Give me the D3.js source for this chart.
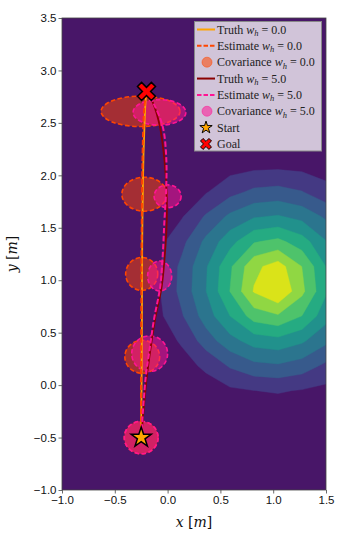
<!DOCTYPE html>
<html>
<head>
<meta charset="utf-8">
<script src="https://cdn.jsdelivr.net/npm/d3@7"></script>
<style>
  body { margin: 0; background: #fff; }
  svg { display: block; }
</style>
</head>
<body>
<div id="vis"></div>
<script>
////////////////////////////////////////
/////////////// Data ///////////////////
////////////////////////////////////////

// trajectories, [x, y] in metres
const truth0 = [[-0.25, -0.5], [-0.248, -0.2], [-0.245, 0.2], [-0.243, 0.6], [-0.242, 1.0],
  [-0.24, 1.4], [-0.235, 1.8], [-0.228, 2.2], [-0.218, 2.5], [-0.21, 2.68], [-0.2, 2.8]];
const estimate0 = [[-0.25, -0.5], [-0.252, 0.0], [-0.25, 0.5], [-0.248, 1.0], [-0.245, 1.5],
  [-0.24, 2.0], [-0.232, 2.4], [-0.22, 2.65], [-0.2, 2.8]];
const truth5 = [[-0.25, -0.5], [-0.2, 0.05], [-0.167, 0.31], [-0.12, 0.62], [-0.056, 0.94],
  [-0.025, 1.26], [-0.008, 1.57], [-0.009, 1.83], [-0.03, 2.15], [-0.072, 2.46], [-0.138, 2.69], [-0.2, 2.8]];
const estimate5 = [[-0.25, -0.5], [-0.21, 0.05], [-0.175, 0.31], [-0.13, 0.62], [-0.07, 0.94],
  [-0.045, 1.26], [-0.03, 1.57], [-0.015, 1.83], [-0.012, 2.15], [-0.045, 2.46], [-0.135, 2.69], [-0.2, 2.8]];

// covariance ellipses, [cx, cy, rx, ry] in metres
const cov0 = [[-0.25, -0.5, 0.16, 0.155], [-0.24, 0.27, 0.165, 0.157], [-0.245, 1.06, 0.152, 0.157],
  [-0.22, 1.82, 0.213, 0.162], [-0.256, 2.61, 0.374, 0.145]];
const cov5 = [[-0.25, -0.5, 0.16, 0.155], [-0.17, 0.3, 0.17, 0.17], [-0.075, 1.04, 0.114, 0.143],
  [0.0, 1.8, 0.128, 0.109], [-0.077, 2.6, 0.25, 0.122]];

const start = [-0.25, -0.5];
const goal = [-0.2, 2.8];

const hazardCenter = [1.0, 0.98];
const hazardRadius = [0, 0.21, 0.31, 0.42, 0.52, 0.64, 0.78, 0.91, 1.045, 1.4];
const hazardLevel = [9.9, 8, 7, 6, 5, 4, 3, 2, 1, 0];
const hazardThresholds = [1, 2, 3, 4, 5, 6, 7, 8];

const xTicks = [-1.0, -0.5, 0.0, 0.5, 1.0, 1.5];
const yTicks = [-1.0, -0.5, 0.0, 0.5, 1.0, 1.5, 2.0, 2.5, 3.0, 3.5];

////////////////////////////////////////
/////////////// Setup //////////////////
////////////////////////////////////////

const W = 359, H = 538;
const plot = { left: 62, right: 326, top: 18, bottom: 490 };

const svg = d3.select("#vis").append("svg").attr("width", W).attr("height", H);

const x = d3.scaleLinear().domain([-1, 1.5]).range([plot.left, plot.right]);
const y = d3.scaleLinear().domain([-1, 3.5]).range([plot.bottom, plot.top]);

svg.append("clipPath").attr("id", "clip")
  .append("rect")
  .attr("x", plot.left).attr("y", plot.top)
  .attr("width", plot.right - plot.left).attr("height", plot.bottom - plot.top);

const g = svg.append("g").attr("clip-path", "url(#clip)");

const nBands = hazardThresholds.length + 1;
const bandColor = (i) => d3.interpolateViridis((i + 0.5) / nBands);

////////////////////////////////////////
/////////////// Contours ///////////////
////////////////////////////////////////

g.append("rect")
  .attr("x", plot.left).attr("y", plot.top)
  .attr("width", plot.right - plot.left).attr("height", plot.bottom - plot.top)
  .attr("fill", bandColor(0));

// coarse sampling grid like the original figure
const sx = 2.5 / 11, sy = 4.5 / 19, gx0 = -1.0, gy0 = -1.0, nx = 16, ny = 20;
const level = d3.scaleLinear().domain(hazardRadius).range(hazardLevel).clamp(true);
const values = [];
for (let j = 0; j < ny; j++) {
  for (let i = 0; i < nx; i++) {
    const px = gx0 + i * sx, py = gy0 + j * sy;
    values.push(level(Math.hypot(px - hazardCenter[0], py - hazardCenter[1])));
  }
}

const contours = d3.contours().size([nx, ny]).thresholds(hazardThresholds)(values);
const gridPath = d3.geoPath(d3.geoTransform({
  point: function (gx, gy) {
    this.stream.point(x(gx0 + (gx - 0.5) * sx), y(gy0 + (gy - 0.5) * sy));
  }
}));

g.selectAll("path.band")
  .data(contours)
  .join("path")
  .attr("class", "band")
  .attr("d", gridPath)
  .attr("fill", (d, i) => bandColor(i + 1))
  .attr("stroke", (d, i) => bandColor(i + 1))
  .attr("stroke-width", 0.4);

////////////////////////////////////////
/////////////// Ellipses ///////////////
////////////////////////////////////////

const c0 = "#ff4500", c0fill = "#ff4500", c0truth = "#ffa500";
const c5 = "#ff1493", c5fill = "#ff1493", c5truth = "#8b0000";

function drawCov(data, fill, edge) {
  g.append("g").selectAll("ellipse")
    .data(data)
    .join("ellipse")
    .attr("cx", (d) => x(d[0]))
    .attr("cy", (d) => y(d[1]))
    .attr("rx", (d) => x(d[2]) - x(0))
    .attr("ry", (d) => y(0) - y(d[3]))
    .attr("fill", fill)
    .attr("fill-opacity", 0.5)
    .attr("stroke", edge)
    .attr("stroke-width", 1.6)
    .attr("stroke-dasharray", "4.5,2.5");
}
drawCov(cov0, c0fill, c0);
drawCov(cov5, c5fill, c5);

////////////////////////////////////////
/////////////// Lines //////////////////
////////////////////////////////////////

const line = d3.line().x((d) => x(d[0])).y((d) => y(d[1])).curve(d3.curveCatmullRom);

function drawLine(data, color, dashed) {
  g.append("path")
    .attr("d", line(data))
    .attr("fill", "none")
    .attr("stroke", color)
    .attr("stroke-width", dashed ? 2 : 1.8)
    .attr("stroke-dasharray", dashed ? "5.5,2.4" : null);
}
drawLine(truth0, c0truth, false);
drawLine(estimate0, c0, true);
drawLine(truth5, c5truth, false);
drawLine(estimate5, c5, true);

////////////////////////////////////////
/////////////// Markers ////////////////
////////////////////////////////////////

function xMarkerPath(half, w) {
  const L = half * Math.SQRT2 - w;
  const pts = [[w, L], [w, w], [L, w], [L, -w], [w, -w], [w, -L], [-w, -L], [-w, -w], [-L, -w], [-L, w], [-w, w], [-w, L]];
  return "M" + pts.map(([a, b]) => [(a - b) / Math.SQRT2, (a + b) / Math.SQRT2].join(",")).join("L") + "Z";
}

const starSym = (r) => d3.symbol(d3.symbolStar, (r * r) / 0.8908130915292852)();

svg.append("path")
  .attr("d", starSym(10.5))
  .attr("transform", `translate(${x(start[0])},${y(start[1])})`)
  .attr("fill", "#ffa500").attr("stroke", "#000").attr("stroke-width", 1.5)
  .attr("stroke-linejoin", "miter");

svg.append("path")
  .attr("d", xMarkerPath(9, 2.9))
  .attr("transform", `translate(${x(goal[0])},${y(goal[1])})`)
  .attr("fill", "#ff0000").attr("stroke", "#000").attr("stroke-width", 1.5);

////////////////////////////////////////
/////////////// Axes ///////////////////
////////////////////////////////////////

svg.append("rect")
  .attr("x", plot.left).attr("y", plot.top)
  .attr("width", plot.right - plot.left).attr("height", plot.bottom - plot.top)
  .attr("fill", "none").attr("stroke", "#444").attr("stroke-width", 0.8);

const fmt = d3.format(".1f");

const xAxis = svg.append("g")
  .attr("transform", `translate(0,${plot.bottom})`)
  .call(d3.axisBottom(x).tickValues(xTicks).tickFormat(fmt).tickSize(3.5).tickPadding(2));
const yAxis = svg.append("g")
  .attr("transform", `translate(${plot.left},0)`)
  .call(d3.axisLeft(y).tickValues(yTicks).tickFormat(fmt).tickSize(3.5).tickPadding(2));

[xAxis, yAxis].forEach((a) => {
  a.select(".domain").remove();
  a.selectAll("line").attr("stroke", "#444").attr("stroke-width", 0.8);
  a.selectAll("text")
    .attr("fill", "#111")
    .style("font-family", "'Liberation Sans', Arial, sans-serif")
    .style("font-size", "11.5px");
});

const labelFont = "'DejaVu Serif', 'Liberation Serif', serif";
const xl = svg.append("text")
  .attr("x", (plot.left + plot.right) / 2).attr("y", 527)
  .attr("text-anchor", "middle")
  .style("font-family", labelFont).style("font-size", "14px").attr("fill", "#111");
xl.append("tspan").attr("font-style", "italic").text("x");
xl.append("tspan").text(" [");
xl.append("tspan").attr("font-style", "italic").text("m");
xl.append("tspan").text("]");

const yl = svg.append("text")
  .attr("transform", `translate(17,${(plot.top + plot.bottom) / 2}) rotate(-90)`)
  .attr("text-anchor", "middle")
  .style("font-family", labelFont).style("font-size", "14px").attr("fill", "#111");
yl.append("tspan").attr("font-style", "italic").text("y");
yl.append("tspan").text(" [");
yl.append("tspan").attr("font-style", "italic").text("m");
yl.append("tspan").text("]");

////////////////////////////////////////
/////////////// Legend /////////////////
////////////////////////////////////////

const legendItems = [
  { kind: "line", color: c0truth, label: "Truth", w: "0.0" },
  { kind: "dash", color: c0, label: "Estimate", w: "0.0" },
  { kind: "cov", color: c0, label: "Covariance", w: "0.0" },
  { kind: "line", color: c5truth, label: "Truth", w: "5.0" },
  { kind: "dash", color: c5, label: "Estimate", w: "5.0" },
  { kind: "cov", color: c5, label: "Covariance", w: "5.0" },
  { kind: "star", label: "Start" },
  { kind: "goal", label: "Goal" },
];

const leg = svg.append("g");
leg.append("rect")
  .attr("x", 194.5).attr("y", 21.5).attr("width", 127).attr("height", 129.5)
  .attr("fill", "#fff").attr("fill-opacity", 0.75)
  .attr("stroke", "#888").attr("stroke-width", 1);

const rowY = (i) => 29.5 + i * 16.35;
const rows = leg.selectAll("g.row").data(legendItems).join("g")
  .attr("class", "row")
  .attr("transform", (d, i) => `translate(0,${rowY(i)})`);

rows.each(function (d) {
  const r = d3.select(this);
  if (d.kind === "line" || d.kind === "dash") {
    r.append("line").attr("x1", 197).attr("x2", 215).attr("y1", 0).attr("y2", 0)
      .attr("stroke", d.color).attr("stroke-width", 2)
      .attr("stroke-dasharray", d.kind === "dash" ? "4.5,2" : null);
  } else if (d.kind === "cov") {
    r.append("circle").attr("cx", 207).attr("cy", 0).attr("r", 5)
      .attr("fill", d.color).attr("fill-opacity", 0.55)
      .attr("stroke", d.color).attr("stroke-opacity", 0.5).attr("stroke-width", 1);
  } else if (d.kind === "star") {
    r.append("path").attr("d", starSym(6.5)).attr("transform", "translate(206,0)")
      .attr("fill", "#ffa500").attr("stroke", "#000").attr("stroke-width", 1);
  } else if (d.kind === "goal") {
    r.append("path").attr("d", xMarkerPath(5.5, 1.8)).attr("transform", "translate(206,0)")
      .attr("fill", "#ff0000").attr("stroke", "#000").attr("stroke-width", 1);
  }
  const t = r.append("text").attr("x", 217).attr("y", 4)
    .style("font-family", "'Liberation Serif', 'DejaVu Serif', serif")
    .style("font-size", "12px").attr("fill", "#222");
  t.append("tspan").text(d.label + (d.w ? " " : ""));
  if (d.w) {
    t.append("tspan").attr("font-style", "italic").text("w");
    t.append("tspan").attr("font-style", "italic").attr("font-size", "8.5px").attr("dy", 2.5).text("h");
    t.append("tspan").attr("dy", -2.5).text(" = " + d.w);
  }
});
</script>
</body>
</html>
